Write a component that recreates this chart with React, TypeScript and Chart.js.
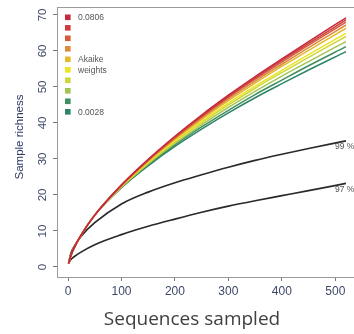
import React, { useEffect, useRef } from 'react';
import { Chart, registerables } from 'chart.js';

Chart.register(...registerables);

// Sequences sampled (x positions of the rarefaction points)
const samples = [1, 5, 10, 25, 50, 100, 150, 200, 250, 300, 350, 400, 450, 520];

// Rarefaction curves, ordered by Akaike weight (highest first)
const curve01 = [1, 3.0, 4.9, 9.0, 14.4, 22.8, 29.9, 36.3, 42.2, 47.7, 52.9, 57.8, 62.6, 69.2];
const curve02 = [1, 3.0, 4.9, 9.0, 14.4, 22.75, 29.78, 36.1, 41.95, 47.4, 52.52, 57.4, 62.09, 68.6];
const curve03 = [1, 3.0, 4.9, 9.0, 14.4, 22.7, 29.67, 35.9, 41.7, 47.1, 52.14, 56.9, 61.59, 68.0];
const curve04 = [1, 3.0, 4.9, 9.0, 14.4, 22.6, 29.52, 35.7, 41.37, 46.7, 51.64, 56.3, 60.92, 67.2];
const curve05 = [1, 3.0, 4.9, 9.0, 14.4, 22.55, 29.34, 35.4, 41.0, 46.2, 51.08, 55.7, 60.16, 66.3];
const curve06 = [1, 3.0, 4.9, 9.0, 14.4, 22.4, 29.08, 35.0, 40.42, 45.5, 50.2, 54.6, 58.99, 64.9];
const curve07 = [1, 3.0, 4.9, 9.0, 14.4, 22.35, 28.9, 34.8, 40.04, 45.0, 49.64, 54.0, 58.23, 64.0];
const curve08 = [1, 3.0, 4.9, 9.0, 14.4, 22.2, 28.64, 34.3, 39.46, 44.3, 48.76, 53.0, 57.05, 62.6];
const curve09 = [1, 3.0, 4.9, 9.0, 14.4, 22.1, 28.37, 33.9, 38.88, 43.5, 47.88, 51.9, 55.88, 61.2];
const curve10 = [1, 3.0, 4.9, 9.0, 14.4, 22.0, 28.1, 33.5, 38.3, 42.8, 47.0, 50.9, 54.7, 59.8];

// Similarity-threshold curves
const otu99 = [1, 3.6, 5.3, 8.6, 12.3, 17.5, 20.8, 23.4, 25.6, 27.7, 29.6, 31.3, 32.9, 35.0];
const otu97 = [1, 2.0, 2.7, 4.2, 6.2, 9.0, 11.3, 13.3, 15.2, 16.9, 18.4, 19.8, 21.2, 23.2];

const colouredCurves = [curve01, curve02, curve03, curve04, curve05, curve06, curve07, curve08, curve09, curve10];
const curveColours = ['#c8283c', '#cc3c3c', '#d45a3a', '#dc8a3c', '#e4b82c', '#ece41e', '#ccd63c', '#a4c452', '#3e8e5e', '#2e8466'];

const legendLabels = ['0.0806', '', '', '', 'Akaike', 'weights', '', '', '', '0.0028'];
const thresholdLabels = ['99 %', '97 %'];

const xTicks = [0, 100, 200, 300, 400, 500];
const yTicks = [0, 10, 20, 30, 40, 50, 60, 70];

const xTitle = 'Sequences sampled';
const yTitle = 'Sample richness';

const AXIS_COL = '#3d4766';

const textPlugin = {
  id: 'textPlugin',
  afterDraw(chart: any) {
    const ctx = chart.ctx;
    const area = chart.chartArea;
    const xs = chart.scales.x;
    const ys = chart.scales.y;
    ctx.save();
    // top frame line
    ctx.strokeStyle = '#9a9a9a';
    ctx.lineWidth = 1;
    ctx.beginPath();
    ctx.moveTo(area.left, area.top + 0.5);
    ctx.lineTo(area.right, area.top + 0.5);
    ctx.stroke();

    // y tick labels, rotated
    ctx.fillStyle = AXIS_COL;
    ctx.font = '11.5px "Liberation Sans", Arial, sans-serif';
    ctx.textAlign = 'center';
    ctx.textBaseline = 'middle';
    yTicks.forEach((v) => {
      const py = ys.getPixelForValue(v);
      ctx.save();
      ctx.translate(43, py);
      ctx.rotate(-Math.PI / 2);
      ctx.fillText(String(v), 0, 0);
      ctx.restore();
    });

    // y title
    ctx.save();
    ctx.translate(20, 137);
    ctx.rotate(-Math.PI / 2);
    ctx.font = '11.5px "Liberation Sans", Arial, sans-serif';
    ctx.fillStyle = '#2d3a66';
    ctx.fillText(yTitle, 0, 0);
    ctx.restore();

    // x title
    ctx.font = '19px "Open Sans", sans-serif';
    ctx.fillStyle = '#404040';
    ctx.fillText(xTitle, 192, 320);

    // legend of Akaike weights
    ctx.textAlign = 'left';
    ctx.font = '8.5px "Liberation Sans", Arial, sans-serif';
    curveColours.forEach((c, i) => {
      const cy = area.top + 10.3 + i * 10.5;
      ctx.fillStyle = c;
      ctx.fillRect(65, cy - 2.8, 5.6, 5.6);
      if (legendLabels[i]) {
        ctx.fillStyle = '#555555';
        ctx.fillText(legendLabels[i], 78, cy + 0.5);
      }
    });

    // threshold labels
    const last = samples.length - 1;
    const ends = [otu99[last], otu97[last]];
    ctx.fillStyle = '#555555';
    ctx.font = '8.5px "Liberation Sans", Arial, sans-serif';
    ends.forEach((v, i) => {
      const px = xs.getPixelForValue(samples[last]) - 11;
      const py = ys.getPixelForValue(v) + 6;
      ctx.fillText(thresholdLabels[i], px, py);
    });
    ctx.restore();
  },
};

export default function App() {
  const canvasRef = useRef<HTMLCanvasElement | null>(null);

  useEffect(() => {
    const canvas = canvasRef.current;
    if (!canvas) return;
    const toPoints = (arr: number[]) => samples.map((x, i) => ({ x, y: arr[i] }));
    const datasets: any[] = colouredCurves.map((arr, i) => ({
      label: 'w' + i,
      data: toPoints(arr),
      borderColor: curveColours[i],
      borderWidth: 1.5,
      pointRadius: 0,
      cubicInterpolationMode: 'monotone',
      fill: false,
    }));
    datasets.push({
      label: thresholdLabels[0],
      data: toPoints(otu99),
      borderColor: '#2a2a2a',
      borderWidth: 1.7,
      pointRadius: 0,
      cubicInterpolationMode: 'monotone',
      fill: false,
    });
    datasets.push({
      label: thresholdLabels[1],
      data: toPoints(otu97),
      borderColor: '#2a2a2a',
      borderWidth: 1.7,
      pointRadius: 0,
      cubicInterpolationMode: 'monotone',
      fill: false,
    });

    const chart = new Chart(canvas, {
      type: 'line',
      data: { datasets },
      options: {
        animation: false,
        responsive: false,
        devicePixelRatio: 1,
        layout: { padding: { top: 7, right: 0, left: 0, bottom: 0 } },
        plugins: { legend: { display: false }, tooltip: { enabled: false } },
        scales: {
          x: {
            type: 'linear',
            min: -20.6,
            max: 535,
            afterBuildTicks: (s: any) => {
              s.ticks = xTicks.map((v) => ({ value: v }));
            },
            afterFit: (s: any) => {
              s.height = 57;
            },
            ticks: {
              color: AXIS_COL,
              font: { family: '"Liberation Sans", Arial, sans-serif', size: 12 },
              padding: 3,
              maxRotation: 0,
              autoSkip: false,
            },
            grid: { drawOnChartArea: false, drawTicks: true, tickLength: 4, color: '#777777' },
            border: { display: true, color: '#9a9a9a', width: 1 },
          },
          y: {
            type: 'linear',
            min: -2.78,
            max: 72.2,
            afterBuildTicks: (s: any) => {
              s.ticks = yTicks.map((v) => ({ value: v }));
            },
            afterFit: (s: any) => {
              s.width = 57;
            },
            ticks: { display: false },
            grid: { drawOnChartArea: false, drawTicks: true, tickLength: 4, color: '#777777' },
            border: { display: true, color: '#9a9a9a', width: 1 },
          },
        },
      },
      plugins: [textPlugin],
    });
    return () => chart.destroy();
  }, []);

  return (
    <div style={{ position: 'fixed', left: 0, top: 0, width: 354, height: 334, background: '#ffffff' }}>
      <canvas ref={canvasRef} width={354} height={334} style={{ width: 354, height: 334 }} />
    </div>
  );
}
